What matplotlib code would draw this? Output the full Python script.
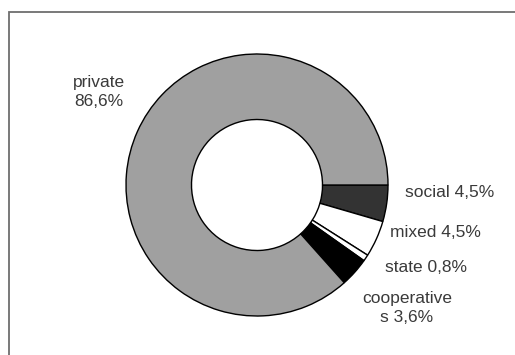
import matplotlib.pyplot as plt
from matplotlib.patches import Rectangle

plt.rcParams['font.family'] = ['Liberation Sans', 'DejaVu Sans']

# ownership shares, clockwise from 3 o'clock
sectors = ['social', 'mixed', 'state', 'cooperatives', 'private']
shares = [4.5, 4.5, 0.8, 3.6, 86.6]
colors = ['#333333', '#ffffff', '#ffffff', '#000000', '#a0a0a0']

fig = plt.figure(figsize=(5.15, 3.55), dpi=100)
fig.patch.set_facecolor('white')

# light grey frame round the chart area
fig.patches.append(Rectangle((9 / 515, -0.1), 1.2, 1 - 12 / 355 + 0.1,
                             transform=fig.transFigure, fill=False,
                             edgecolor='#6e6e6e', linewidth=1.3))

# pie centred at (257, 185) px with radius 131 px
r = 131
ax = fig.add_axes([(257 - r) / 515, (355 - 185 - r) / 355, 2 * r / 515, 2 * r / 355])
wedges, _ = ax.pie(shares, colors=colors, startangle=0, counterclock=False,
                   radius=1, wedgeprops=dict(width=0.5, edgecolor='black', linewidth=1))
ax.set_xlim(-1, 1)
ax.set_ylim(-1, 1)
ax.set_aspect('equal')

def fmt(v):
    return ('%.1f%%' % v).replace('.', ',')

txt = dict(fontsize=12.5, color='#3a3a3a', clip_on=False)
ax.text(-1.21, 0.71, 'private\n' + fmt(shares[4]), ha='center', va='center',
        linespacing=1.35, **txt)
ax.text(1.13, -0.06, 'social ' + fmt(shares[0]), ha='left', va='center', **txt)
ax.text(1.015, -0.36, 'mixed ' + fmt(shares[1]), ha='left', va='center', **txt)
ax.text(0.98, -0.63, 'state ' + fmt(shares[2]), ha='left', va='center', **txt)
ax.text(1.145, -0.94, 'cooperative\ns ' + fmt(shares[3]), ha='center', va='center',
        linespacing=1.35, **txt)

fig.savefig('out.png', dpi=100)
